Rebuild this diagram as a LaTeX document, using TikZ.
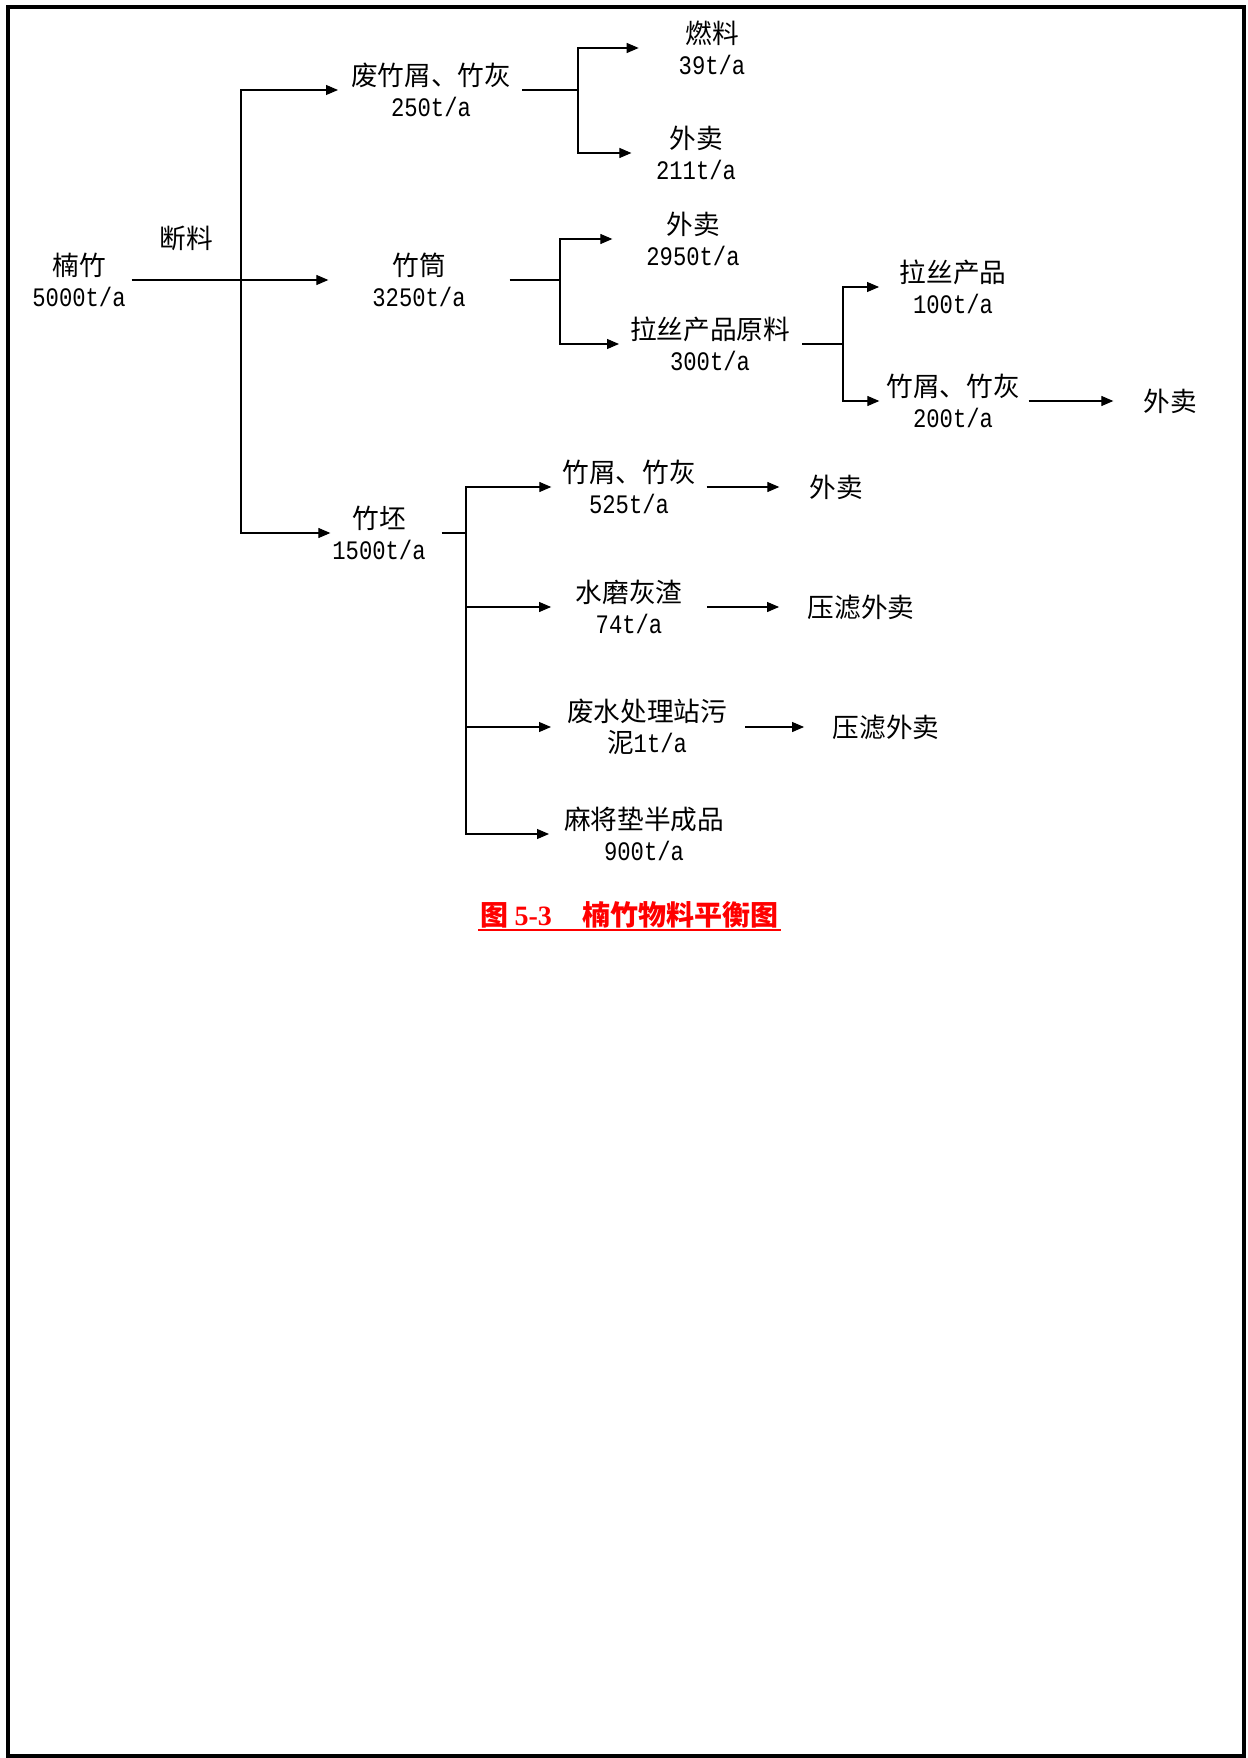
\documentclass[tikz,border=0pt]{standalone}
\usepackage{fontspec}
\setmainfont{Noto Sans CJK SC}
\newfontfamily\numf[FakeStretch=0.833]{Liberation Mono}
\newfontfamily\capnum{Liberation Serif}
\usetikzlibrary{arrows.meta,calc}
\newcommand{\nm}[1]{{\numf #1}}
\begin{document}
\begin{tikzpicture}[x=0.75pt,y=-0.75pt,
  lbl/.style={inner sep=0pt, outer sep=0pt, align=center, font=\fontsize{20pt}{23.5pt}\selectfont},
  ln/.style={line width=0.8pt},
  arr/.style={ln, -{Triangle[length=9pt,width=7.5pt]}}]
\useasboundingbox (0,0) rectangle (1248,1758);
\draw[line width=3pt] (7.5,7) rectangle (1244,1756);
% nodes
\node[lbl] (nz)  at (79,280)   {楠竹\\\nm{5000t/a}};
\node[lbl] (dl)  at (186,238)  {断料};
\node[lbl] (fzx) at (431,90)   {废竹屑、竹灰\\\nm{250t/a}};
\node[lbl] (zt)  at (419,280)  {竹筒\\\nm{3250t/a}};
\node[lbl] (zp)  at (379,533)  {竹坯\\\nm{1500t/a}};
\node[lbl] (rl)  at (712,48)   {燃料\\\nm{39t/a}};
\node[lbl] (wm1) at (696,153)  {外卖\\\nm{211t/a}};
\node[lbl] (wm2) at (693,239)  {外卖\\\nm{2950t/a}};
\node[lbl] (lsy) at (710,344)  {拉丝产品原料\\\nm{300t/a}};
\node[lbl] (lsp) at (953,287)  {拉丝产品\\\nm{100t/a}};
\node[lbl] (zz1) at (953,401)  {竹屑、竹灰\\\nm{200t/a}};
\node[lbl] (wm3) at (1170,401) {外卖};
\node[lbl] (zz2) at (629,487)  {竹屑、竹灰\\\nm{525t/a}};
\node[lbl] (wm4) at (836,487)  {外卖};
\node[lbl] (sm)  at (629,607)  {水磨灰渣\\\nm{74t/a}};
\node[lbl] (lw1) at (861,607)  {压滤外卖};
\node[lbl] (fs)  at (647,727)  {废水处理站污\\泥\nm{1t/a}};
\node[lbl] (lw2) at (886,727)  {压滤外卖};
\node[lbl] (mj)  at (644,834)  {麻将垫半成品\\\nm{900t/a}};
% junctions
\coordinate (j0) at (241,280);
\coordinate (j1) at (578,90);
\coordinate (j2) at (560,280);
\coordinate (j3) at (843,344);
\coordinate (j4) at (466,533);
% connectors
\draw[arr] ($(nz.east)+(6,0)$) -- ($(zt.west)+(-44,0)$);
\draw[arr] (j0) |- ($(fzx.west)+(-13,0)$);
\draw[arr] (j0) |- ($(zp.west)+(-2,0)$);
\draw[ln] ($(fzx.east)+(11,0)$) -- (j1);
\draw[arr] (j1) |- ($(rl.west)+(-40,0)$);
\draw[arr] (j1) |- ($(wm1.west)+(-24.6,0)$);
\draw[ln] ($(zt.east)+(44,0)$) -- (j2);
\draw[arr] (j2) |- ($(wm2.west)+(-34,0)$);
\draw[arr] (j2) |- ($(lsy.west)+(-11,0)$);
\draw[ln] ($(lsy.east)+(12,0)$) -- (j3);
\draw[arr] (j3) |- ($(lsp.west)+(-20.6,0)$);
\draw[arr] (j3) |- ($(zz1.west)+(-7,0)$);
\draw[arr] ($(zz1.east)+(9,0)$) -- ($(wm3.west)+(-30,0)$);
\draw[ln] ($(zp.east)+(16,0)$) -- (j4);
\draw[arr] (j4) |- ($(zz2.west)+(-11,0)$);
\draw[arr] (j4) |- ($(sm.west)+(-24.6,0)$);
\draw[arr] (j4) |- ($(fs.west)+(-16,0)$);
\draw[arr] (j4) |- ($(mj.west)+(-15,0)$);
\draw[arr] ($(zz2.east)+(11,0)$) -- ($(wm4.west)+(-30,0)$);
\draw[arr] ($(sm.east)+(25,0)$) -- ($(lw1.west)+(-28.6,0)$);
\draw[arr] ($(fs.east)+(18,0)$) -- ($(lw2.west)+(-28.6,0)$);
% caption
\node[inner sep=0pt, outer sep=0pt, anchor=base west, text=red,
      font=\fontsize{21pt}{25pt}\selectfont\bfseries] (cap) at (480,925)
      {图\hspace{5pt}{\capnum 5-3}\hspace{23pt}楠竹物料平衡图};
\draw[red, line width=1.5pt] ($(cap.base west)+(-2,4.5)$) -- ($(cap.base east)+(2,4.5)$);
\end{tikzpicture}
\end{document}
